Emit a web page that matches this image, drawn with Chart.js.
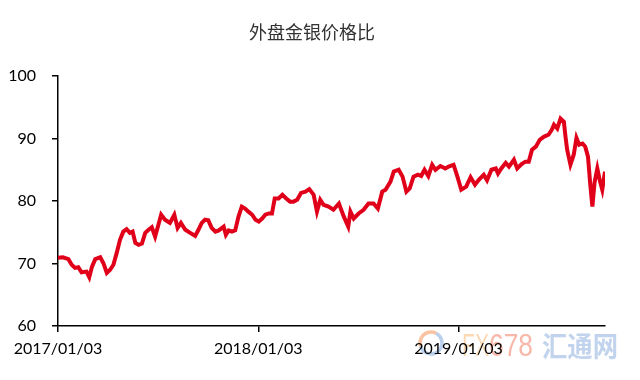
<!DOCTYPE html>
<html>
<head>
<meta charset="utf-8">
<script src="https://cdn.jsdelivr.net/npm/chart.js@4"></script>
<style>
html,body{margin:0;padding:0;background:#fff;}
#wrap{width:640px;height:380px;position:relative;}
</style>
</head>
<body>
<div id="wrap"><canvas id="c" width="640" height="380"></canvas></div>
<script>
const chartTitle = '外盘金银价格比';
const dates = [
'2017/01/03','2017/01/12','2017/01/22','2017/01/28','2017/02/03','2017/02/09','2017/02/15','2017/02/24','2017/03/01','2017/03/06',
'2017/03/12','2017/03/21','2017/03/27','2017/04/02','2017/04/08','2017/04/14','2017/04/20','2017/04/26','2017/05/02','2017/05/08',
'2017/05/14','2017/05/19','2017/05/24','2017/05/30','2017/06/05','2017/06/11','2017/06/17','2017/06/23','2017/06/29','2017/07/05',
'2017/07/10','2017/07/17','2017/07/26','2017/08/03','2017/08/09','2017/08/15','2017/08/23','2017/09/01','2017/09/10','2017/09/16',
'2017/09/22','2017/09/28','2017/10/04','2017/10/10','2017/10/17','2017/10/23','2017/11/01','2017/11/05','2017/11/10','2017/11/16',
'2017/11/22','2017/11/28','2017/12/04','2017/12/10','2017/12/16','2017/12/23','2017/12/29','2018/01/04','2018/01/10','2018/01/16',
'2018/01/22','2018/01/28','2018/02/02','2018/02/09','2018/02/16','2018/02/23','2018/03/02','2018/03/08','2018/03/15','2018/03/22',
'2018/03/30','2018/04/06','2018/04/14','2018/04/20','2018/04/26','2018/05/02','2018/05/11','2018/05/20','2018/05/30','2018/06/08',
'2018/06/16','2018/06/20','2018/06/26','2018/07/05','2018/07/14','2018/07/23','2018/08/01','2018/08/09','2018/08/17','2018/08/23',
'2018/09/01','2018/09/07','2018/09/16','2018/09/23','2018/09/30','2018/10/06','2018/10/13','2018/10/21','2018/10/27','2018/11/02',
'2018/11/09','2018/11/16','2018/11/22','2018/12/01','2018/12/10','2018/12/16','2018/12/25','2019/01/01','2019/01/08','2019/01/17',
'2019/01/25','2019/02/02','2019/02/09','2019/02/18','2019/02/24','2019/03/04','2019/03/12','2019/03/16','2019/03/22','2019/03/30',
'2019/04/05','2019/04/14','2019/04/20','2019/04/28','2019/05/05','2019/05/11','2019/05/17','2019/05/24','2019/05/31','2019/06/08',
'2019/06/16','2019/06/22','2019/06/26','2019/07/02','2019/07/08','2019/07/14','2019/07/17','2019/07/20','2019/07/26','2019/08/01',
'2019/08/06','2019/08/11','2019/08/17','2019/08/22','2019/08/27','2019/08/31','2019/09/04','2019/09/08','2019/09/13','2019/09/18',
'2019/09/22','2019/09/27'
];
const ratio = [
70.9,71.0,70.7,69.8,69.3,69.4,68.6,68.7,67.8,69.5,
70.7,71.0,70.0,68.5,69.0,69.8,71.7,73.8,75.1,75.5,
74.9,75.1,73.3,73.0,73.2,74.9,75.4,75.8,74.3,76.2,
77.8,77.0,76.5,77.8,75.7,76.5,75.4,74.9,74.4,75.4,
76.5,77.0,76.9,75.7,75.1,75.3,75.9,74.6,75.3,75.1,
75.3,77.5,79.1,78.8,78.3,77.8,77.0,76.7,77.2,77.8,
78.0,78.0,80.4,80.4,81.0,80.4,79.9,79.9,80.2,81.3,
81.5,81.9,81.0,78.3,80.2,79.4,79.1,78.6,79.6,77.5,
75.9,78.3,77.2,78.0,78.6,79.6,79.6,78.8,81.5,81.8,
83.1,84.7,85.0,83.9,81.5,82.0,83.9,84.2,84.0,85.0,
84.0,85.8,85.0,85.6,85.2,85.5,85.8,83.9,81.8,82.3,
83.8,82.6,83.4,84.2,83.3,85.0,85.2,84.4,85.2,86.1,
85.5,86.6,85.2,85.9,86.3,86.3,88.2,88.7,89.8,90.3,
90.6,91.4,92.2,91.6,93.2,92.7,90.3,88.2,85.8,87.4,
90.1,89.0,89.2,88.7,87.1,82.8,79.1,83.0,85.2,83.1,
81.8,84.7
];
const tickDates = ['2017/01/03','2018/01/03','2019/01/03'];
const yMin = 60, yMax = 100, yStep = 10;

function dayOf(s){
  const p = s.split('/').map(Number);
  const b = dates[0].split('/').map(Number);
  return Math.round((Date.UTC(p[0],p[1]-1,p[2]) - Date.UTC(b[0],b[1]-1,b[2]))/864e5);
}
const points = dates.map((d,i)=>({x:dayOf(d), y:ratio[i]}));
const tickDays = tickDates.map(dayOf);

const deco = {
  id:'deco',
  beforeDraw(chart){
    const ctx = chart.ctx;
    ctx.save();
    ctx.fillStyle = '#fff';
    ctx.fillRect(0,0,chart.width,chart.height);
    // title
    ctx.fillStyle = '#333';
    ctx.font = '18px "Noto Sans CJK SC"';
    ctx.textAlign = 'center';
    ctx.textBaseline = 'middle';
    ctx.fillText(chartTitle, 312, 32);
    // watermark
    ctx.globalAlpha = 0.8;
    ctx.lineWidth = 3.5;
    ctx.strokeStyle = '#a9c3e6';
    ctx.beginPath(); ctx.arc(431, 343, 11, -Math.PI*0.35, Math.PI*0.9); ctx.stroke();
    ctx.strokeStyle = '#f7b48a';
    ctx.beginPath(); ctx.arc(431, 343, 11, Math.PI*0.9, Math.PI*1.65); ctx.stroke();
    ctx.textAlign = 'left';
    ctx.textBaseline = 'alphabetic';
    ctx.font = '32px "Liberation Sans"';
    ctx.fillStyle = '#f9cfa0';
    ctx.fillText('FX', 462, 356, 27);
    ctx.fillStyle = '#f6a593';
    ctx.fillText('678', 489, 356, 44);
    ctx.fillStyle = '#b3c9e8';
    ctx.font = 'bold 28px "Noto Sans CJK SC"';
    ctx.fillText('汇通网', 542, 357, 76);
    ctx.restore();
  }
};

new Chart(document.getElementById('c'), {
  type:'line',
  data:{ datasets:[{
    data: points,
    borderColor:'#e1001a',
    borderWidth:4,
    pointRadius:0,
    tension:0,
    fill:false
  }]},
  options:{
    responsive:false,
    animation:false,
    events:[],
    layout:{padding:{left:0,right:35,top:76,bottom:0}},
    plugins:{legend:{display:false},title:{display:false},tooltip:{enabled:false}},
    scales:{
      x:{
        type:'linear',
        min:0,
        max:points[points.length-1].x,
        afterBuildTicks(scale){ scale.ticks = tickDays.map(v=>({value:v})); },
        afterFit(scale){ scale.height = 54; },
        ticks:{
          autoSkip:false, maxRotation:0,
          callback:(v)=>{ const i = tickDays.indexOf(v); return i>=0 ? tickDates[i] : ''; },
          color:'#000', font:{family:'Lato', size:16}, padding:7
        },
        grid:{display:true, drawOnChartArea:false, drawTicks:true, tickLength:6, color:'#000', lineWidth:1.5},
        border:{display:true, color:'#000', width:1.5}
      },
      y:{
        min:yMin, max:yMax,
        afterFit(scale){ scale.width = 58; },
        ticks:{stepSize:yStep, color:'#000', font:{family:'Lato', size:16}, padding:16},
        grid:{display:true, drawOnChartArea:false, drawTicks:true, tickLength:6, color:'#000', lineWidth:1.5},
        border:{display:true, color:'#000', width:1.5}
      }
    }
  },
  plugins:[deco]
});
</script>
</body>
</html>
